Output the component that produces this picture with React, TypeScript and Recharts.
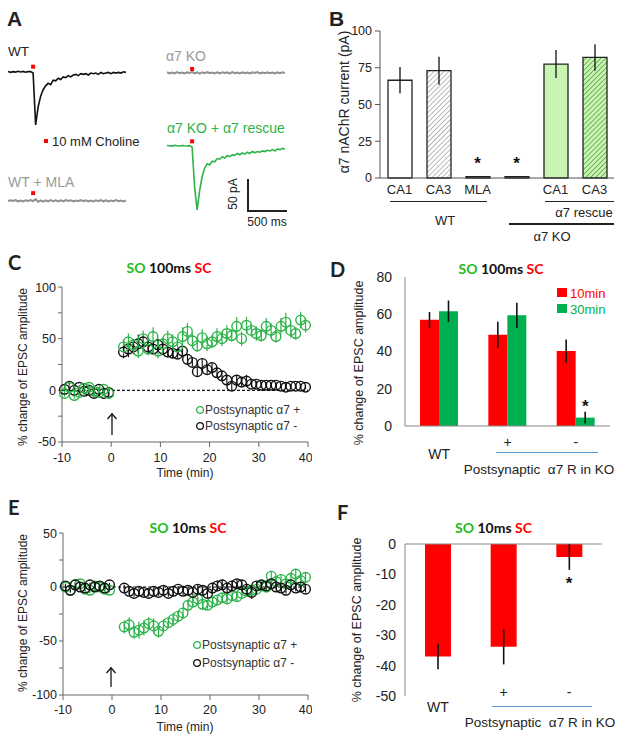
import React from 'react';
import {
  LineChart,
  Line,
  BarChart,
  Bar,
  ScatterChart,
  Scatter,
  XAxis,
  YAxis,
  ErrorBar,
  Cell,
  ReferenceLine,
  ReferenceDot,
} from 'recharts';

// ---- Panel A: example current traces (pA), evenly sampled over ~1.5 s ----
const TRACE_WT = [
  0.5, -0.8, 0.3, -0.5, 0.8, -0.3, 0.6, -0.7, 0.2, 0.4,
  -2, -83, -55, -38, -28, -22, -18, -20, -13, -14,
  -10, -12, -8, -9, -6, -8, -5, -4, -6, -3,
  -4, -3, -5, -2, -3, -2, -4, -1, -3, -2,
  -1, -3, -1, -2, -1, -2, 0, -1,
];
const TRACE_KO = [
  1, -1, 0.5, -0.8, 1.2, -0.6, 0.4, -1, 0.8, -0.4,
  1.5, -0.9, 0.6, -1.2, 0.9, -0.5, 1.1, -0.7, 0.3, -1,
  0.8, -1.1, 0.9, -0.4, 0.6, -1.2, 1, -0.6, 0.4, -0.9,
  0.9, -0.7, 0.5, -1.1, 0.8, -0.3, 1.1, -0.9, 0.5, -0.7,
  0.9, -0.5, 0.3, -1.1, 0.7, -0.6, 0.9, -0.4,
];
const TRACE_MLA = [
  -0.6, 0.9, -0.4, 1, -0.8, 0.5, -1, 0.7, -0.3, 1.1,
  -0.5, 2.5, -1.5, 0.8, -1.2, 0.6, -0.9, 1, -0.5, 0.8,
  -1, 0.6, -0.8, 1.1, -0.4, 0.9, -1.1, 0.5, -0.7, 1,
  -0.6, 0.8, -0.9, 0.4, -1, 0.7, -0.5, 1.1, -0.8, 0.6,
  -0.9, 0.5, -0.6, 1, -0.7, 0.4, -1, 0.8,
];
const TRACE_RESCUE = [
  0.5, 0, -0.5, 0.8, 0.2, -0.4, 0.5, 0, -0.3, 0.3,
  -2, -65, -100, -70, -48, -35, -28, -30, -24, -25,
  -20, -21, -17, -19, -15, -17, -14, -15, -12, -14,
  -11, -13, -10, -12, -9, -11, -9, -10, -8, -9,
  -7, -8, -6, -8, -5, -6, -4, -5,
];
const STIM_INDEX = 10; // sample where choline was puffed
const STIM_MARK = [8, 6, 12, 7]; // height of the red marker (pA): WT, KO, MLA, rescue

// ---- Panel B ----
const B_CATEGORIES = ['WT CA1', 'WT CA3', 'WT MLA', 'KO', 'Rescue CA1', 'Rescue CA3'];
const B_TICKS = ['CA1', 'CA3', 'MLA', '', 'CA1', 'CA3'];
const B_VALUES = [66.5, 73, 1, 1, 77.5, 82];
const B_ERRORS = [9, 9.5, 0, 0, 9.5, 9];
const B_STARRED = ['WT MLA', 'KO'];

// ---- Panel C (SO 100ms SC) ----
const C_TIME = [
  -9.5, -8.5, -7.5, -6.5, -5.5, -4.5, -3.5, -2.5, -1.5, -0.5,
  2.5, 3.5, 4.5, 5.5, 6.5, 7.5, 8.5, 9.5, 10.5, 11.5, 12.5, 13.5, 14.5, 15.5, 16.5, 17.5, 18.5, 19.5,
  20.5, 21.5, 22.5, 23.5, 24.5, 25.5, 26.5, 27.5, 28.5, 29.5, 30.5, 31.5, 32.5, 33.5, 34.5, 35.5,
  36.5, 37.5, 38.5, 39.5,
];
const C_PLUS = [
  -3, 3, -5, -2, 2, 3, -1, -2, 1, -3,
  42, 47, 44, 38, 50, 40, 52, 38, 45, 50, 47, 42, 52, 57, 48, 43, 51, 45,
  47, 52, 50, 55, 53, 62, 50, 63, 58, 55, 53, 62, 58, 52, 62, 66, 58, 55, 68, 63,
];
const C_PLUS_ERR = [
  3, 3, 3, 2, 3, 3, 2, 3, 2, 3,
  7, 8, 6, 7, 8, 6, 9, 7, 6, 8, 7, 6, 9, 8, 7, 6, 8, 7,
  6, 8, 7, 8, 6, 9, 7, 8, 6, 7, 6, 8, 7, 6, 8, 9, 7, 6, 8, 7,
];
const C_MINUS = [
  1, 4, 0, 3, -1, 0, -3, 1, -3, -2,
  37, 40, 42, 45, 47, 42, 40, 44, 40, 37, 36, 35, 38, 30, 27, 18, 26, 20,
  22, 17, 14, 10, 4, 10, 8, 9, 6, 6, 5, 5, 5, 5, 4, 3, 4, 4, 4, 3,
];
const C_MINUS_ERR = [
  2, 3, 2, 2, 3, 2, 3, 2, 2, 3,
  6, 8, 7, 9, 6, 7, 5, 6, 6, 5, 5, 4, 5, 5, 4, 4, 5, 4,
  4, 4, 4, 4, 4, 5, 5, 6, 3, 3, 3, 3, 3, 3, 2, 2, 2, 2, 2, 2,
];

// ---- Panel D ----
const D_GROUPS = ['WT', '+', '-'];
const D_10MIN = [57, 49, 40.3];
const D_10MIN_ERR = [4.2, 7, 6.2];
const D_30MIN = [61.6, 59.4, 4.5];
const D_30MIN_ERR = [5.8, 6.8, 3.2];

// ---- Panel E (SO 10ms SC) ----
const E_TIME = C_TIME;
const E_PLUS = [
  0, -3, 2, 3, -2, -3, 1, 0, -2, -3,
  -37, -35, -42, -40, -38, -34, -36, -41, -36, -33, -30, -27, -24, -17, -14, -11, -16, -17,
  -14, -12, -10, -11, -8, -9, -6, -4, -3, -2, 1, 0, 10, 5, 7, 3, 8, 12, 6, 9,
];
const E_PLUS_ERR = [
  2, 2, 3, 2, 2, 3, 2, 2, 3, 2,
  6, 7, 6, 8, 7, 6, 7, 6, 6, 5, 6, 5, 5, 5, 4, 5, 5, 4,
  5, 4, 4, 5, 4, 5, 4, 5, 4, 4, 4, 5, 5, 4, 5, 4, 4, 5, 4, 4,
];
const E_MINUS = [
  1, -3, 2, 0, -1, 2, 0, 1, -1, 2,
  -1, -4, -6, -4, -5, -6, -4, -5, -3, -6, -4, -2, -4, -3, -5, -2, -3, -6,
  -1, 1, 2, -1, 1, 3, 2, -2, -5, 1, 2, 1, 3, 0, -1, -3, 2, -1, 0, -2,
];
const E_MINUS_ERR = [
  2, 2, 2, 2, 2, 2, 2, 2, 2, 2,
  3, 3, 3, 3, 3, 3, 3, 3, 3, 3, 4, 3, 4, 3, 3, 4, 3, 4,
  5, 5, 5, 4, 5, 4, 4, 4, 6, 4, 3, 3, 3, 3, 3, 3, 3, 3, 3, 3,
];

// ---- Panel F ----
const F_GROUPS = ['WT', '+', '-'];
const F_VALUES = [-37, -33.8, -4.3];
const F_ERRORS = [4.2, 5.8, 4.2];

// ---- styling ----
const SANS = '"Liberation Sans", Arial, sans-serif';
const TITLE = 'Lato, "Open Sans", sans-serif';
const SO_GREEN = '#22bb22';
const RED = '#ff0000';
const XL_GREEN = '#00b050';
const TRACE_GREEN = '#2db34a';
const AXIS_GRAY = '#878787';
const BLUE = '#5b9bd5';

const PA_TOP = 20;
const PA_BOTTOM = -110;
const PX_PER_PA = 0.64;
const TRACE_W = 118;

type TxtProps = {
  x: number;
  y: number;
  size: number;
  color?: string;
  font?: string;
  weight?: number | string;
  anchor?: 'start' | 'middle' | 'end';
  rotate?: boolean;
  children: React.ReactNode;
};

function Txt({ x, y, size, color = '#222', font = SANS, weight = 'normal', anchor = 'start', rotate = false, children }: TxtProps) {
  const tx = anchor === 'middle' ? '-50%' : anchor === 'end' ? '-100%' : '0';
  return (
    <div
      style={{
        position: 'absolute',
        left: x,
        top: y,
        fontSize: size,
        fontFamily: font,
        fontWeight: weight,
        color,
        lineHeight: 1,
        whiteSpace: 'nowrap',
        transform: rotate ? 'translate(-50%, -50%) rotate(-90deg)' : `translate(${tx}, -50%)`,
      }}
    >
      {children}
    </div>
  );
}

function HLine({ x1, x2, y, color = '#222', w = 1.3 }: { x1: number; x2: number; y: number; color?: string; w?: number }) {
  return <div style={{ position: 'absolute', left: x1, top: y - w / 2, width: x2 - x1, height: w, background: color }} />;
}

function VLine({ x, y1, y2, color = '#222', w = 1.3 }: { x: number; y1: number; y2: number; color?: string; w?: number }) {
  return <div style={{ position: 'absolute', left: x - w / 2, top: y1, width: w, height: y2 - y1, background: color }} />;
}

function Title({ x, y, mid }: { x: number; y: number; mid: string }) {
  return (
    <Txt x={x} y={y} size={14} font={TITLE} weight={700} anchor="middle">
      <span style={{ color: SO_GREEN }}>SO</span> <span style={{ color: '#111' }}>{mid}</span>{' '}
      <span style={{ color: RED }}>SC</span>
    </Txt>
  );
}

function Arrow({ x, top, bottom }: { x: number; top: number; bottom: number }) {
  return (
    <svg style={{ position: 'absolute', left: x - 6, top }} width={12} height={bottom - top}>
      <line x1={6} y1={0.5} x2={6} y2={bottom - top} stroke="#111" strokeWidth={1.3} />
      <polyline points="1.5,6 6,0.8 10.5,6" fill="none" stroke="#111" strokeWidth={1.3} />
    </svg>
  );
}

function ScatterKey({ x, y, color, label }: { x: number; y: number; color: string; label: string }) {
  return (
    <>
      <svg style={{ position: 'absolute', left: x - 5, top: y - 5 }} width={10} height={10}>
        <circle cx={5} cy={5} r={3.4} fill="none" stroke={color} strokeWidth={1.3} />
      </svg>
      <Txt x={x + 5} y={y} size={12} color="#333">
        {label}
      </Txt>
    </>
  );
}

const redSquare = (p: any) => <rect x={p.cx - 2} y={p.cy - 2} width={4} height={4} fill={RED} />;

function Trace({ data, left, baseline, color, width, stim }: { data: number[]; left: number; baseline: number; color: string; width: number; stim: number }) {
  const rows = data.map((v, i) => ({ i, v }));
  const top = baseline - PA_TOP * PX_PER_PA;
  const h = (PA_TOP - PA_BOTTOM) * PX_PER_PA;
  return (
    <div style={{ position: 'absolute', left, top }}>
      <LineChart width={TRACE_W} height={h} data={rows} margin={{ top: 0, right: 0, bottom: 0, left: 0 }}>
        <XAxis type="number" dataKey="i" domain={[0, data.length - 1]} hide />
        <YAxis type="number" domain={[PA_BOTTOM, PA_TOP]} hide />
        <Line dataKey="v" stroke={color} strokeWidth={width} dot={false} isAnimationActive={false} />
        <ReferenceDot x={STIM_INDEX} y={stim} r={2} shape={redSquare} />
      </LineChart>
    </div>
  );
}

const starShape = (dx: number) => (p: any) => (
  <text x={p.cx + dx} y={p.cy} dy={9} textAnchor="middle" fontSize={17} fontWeight="bold" fontFamily={SANS} fill="#111">
    *
  </text>
);

const openCircle = (color: string) => (p: any) => (
  <circle cx={p.cx} cy={p.cy} r={4.8} fill="none" stroke={color} strokeWidth={1.4} />
);

function TimeCourse({ top, height, marginTop, yWidth, domain, ticks, plus, minus, greenOnTop, tickMargin }: any) {
  const axisStyle = { fontSize: 12.5, fill: '#222', fontFamily: SANS };
  const black = <Scatter data={minus} shape={openCircle('#111')} isAnimationActive={false}>
    <ErrorBar dataKey="err" direction="y" width={0} stroke="#111" strokeWidth={1.1} />
  </Scatter>;
  const green = <Scatter data={plus} shape={openCircle(TRACE_GREEN)} isAnimationActive={false}>
    <ErrorBar dataKey="err" direction="y" width={0} stroke={TRACE_GREEN} strokeWidth={1.2} />
  </Scatter>;
  return (
    <div style={{ position: 'absolute', left: 0, top }}>
      <ScatterChart width={312} height={height} margin={{ top: marginTop, right: 4, bottom: 0, left: 0 }}>
        <XAxis
          type="number"
          dataKey="t"
          domain={[-10, 40]}
          ticks={[-10, 0, 10, 20, 30, 40]}
          height={30}
          stroke="#666"
          tickSize={5}
          tickMargin={tickMargin}
          tick={axisStyle}
        />
        <YAxis
          type="number"
          dataKey="v"
          domain={domain}
          ticks={ticks}
          width={yWidth}
          stroke="#666"
          tickSize={4}
          tickMargin={2}
          tick={axisStyle}
          tickFormatter={(v: number) => (v % 50 === 0 ? String(v) : '')}
        />
        <ReferenceLine y={0} stroke="#111" strokeDasharray="3 2" strokeWidth={1.2} />
        {greenOnTop ? black : green}
        {greenOnTop ? green : black}
      </ScatterChart>
    </div>
  );
}

function DTick(p: any) {
  const isWT = p.payload.value === 'WT';
  return (
    <text x={p.x} y={p.y + (isWT ? 28 : 15.5)} textAnchor="middle" dominantBaseline="central" fontSize={14} fontFamily={SANS} fill="#222">
      {p.payload.value}
    </text>
  );
}

function FTick(p: any) {
  const isWT = p.payload.value === 'WT';
  return (
    <text x={p.x} y={p.y + (isWT ? 10.7 : -4.3)} textAnchor="middle" dominantBaseline="central" fontSize={14} fontFamily={SANS} fill="#222">
      {p.payload.value}
    </text>
  );
}

export default function App() {
  const bData = B_CATEGORIES.map((c, i) => ({ c, v: B_VALUES[i], err: B_ERRORS[i] }));
  const bFills = ['#ffffff', 'url(#hatchGray)', '#111', '#111', '#c9f5b3', 'url(#hatchGreen)'];

  const cPlus = C_TIME.map((t, i) => ({ t, v: C_PLUS[i], err: C_PLUS_ERR[i] }));
  const cMinus = C_TIME.map((t, i) => ({ t, v: C_MINUS[i], err: C_MINUS_ERR[i] }));
  const ePlus = E_TIME.map((t, i) => ({ t, v: E_PLUS[i], err: E_PLUS_ERR[i] }));
  const eMinus = E_TIME.map((t, i) => ({ t, v: E_MINUS[i], err: E_MINUS_ERR[i] }));

  const dData = D_GROUPS.map((g, i) => ({
    g,
    m10: D_10MIN[i],
    e10: D_10MIN_ERR[i],
    m30: D_30MIN[i],
    e30: D_30MIN_ERR[i],
  }));
  const fData = F_GROUPS.map((g, i) => ({ g, v: F_VALUES[i], err: F_ERRORS[i] }));

  const dTick = { fontSize: 14, fill: '#222', fontFamily: SANS };

  return (
    <div style={{ position: 'absolute', left: 0, top: 0, width: 624, height: 741, background: '#fff', overflow: 'hidden' }}>
      {/* ---------- A ---------- */}
      <Txt x={7} y={17.5} size={21} weight={700}>A</Txt>
      <Txt x={8} y={52} size={13.5}>WT</Txt>
      <Trace data={TRACE_WT} left={8} baseline={72} color="#111" width={1.6} stim={STIM_MARK[0]} />
      <Txt x={166} y={56} size={14} color="#9a9a9a">α7 KO</Txt>
      <Trace data={TRACE_KO} left={167} baseline={73} color="#8f8f8f" width={2} stim={STIM_MARK[1]} />
      <div style={{ position: 'absolute', left: 44, top: 139, width: 4, height: 4, background: RED }} />
      <Txt x={52} y={141} size={13}>10 mM Choline</Txt>
      <Txt x={167} y={128} size={14} color={TRACE_GREEN}>α7 KO + α7 rescue</Txt>
      <Trace data={TRACE_RESCUE} left={167} baseline={146} color={TRACE_GREEN} width={1.6} stim={STIM_MARK[3]} />
      <Txt x={8} y={182} size={14} color="#9a9a9a">WT + MLA</Txt>
      <Trace data={TRACE_MLA} left={8} baseline={201} color="#8f8f8f" width={2} stim={STIM_MARK[2]} />
      <VLine x={248} y1={179} y2={211.5} w={1.5} />
      <HLine x1={248} x2={287} y={211} w={1.5} />
      <Txt x={233} y={194} size={12} rotate>50 pA</Txt>
      <Txt x={267} y={222} size={12} anchor="middle">500 ms</Txt>

      {/* ---------- B ---------- */}
      <Txt x={329} y={17.5} size={21} weight={700}>B</Txt>
      <div style={{ position: 'absolute', left: 312, top: 0 }}>
        <BarChart width={312} height={200} data={bData} margin={{ top: 31, right: 10, bottom: 0, left: 0 }}>
          <defs>
            <pattern id="hatchGray" patternUnits="userSpaceOnUse" width={3.5} height={3.5} patternTransform="rotate(45)">
              <rect width={3.5} height={3.5} fill="#ffffff" />
              <line x1={0} y1={0} x2={0} y2={3.5} stroke="#9a9a9a" strokeWidth={1.4} />
            </pattern>
            <pattern id="hatchGreen" patternUnits="userSpaceOnUse" width={3.5} height={3.5} patternTransform="rotate(45)">
              <rect width={3.5} height={3.5} fill="#c9f5b3" />
              <line x1={0} y1={0} x2={0} y2={3.5} stroke="#4f9a3c" strokeWidth={1.4} />
            </pattern>
          </defs>
          <XAxis
            dataKey="c"
            height={22}
            stroke="#555"
            tickSize={0}
            tickMargin={7}
            tick={{ fontSize: 13, fill: '#222', fontFamily: SANS }}
            tickFormatter={(_v: string, i: number) => B_TICKS[i]}
          />
          <YAxis
            domain={[0, 100]}
            ticks={[0, 25, 50, 75, 100]}
            width={68}
            stroke="#555"
            tickSize={5}
            tickMargin={3}
            tick={{ fontSize: 12.5, fill: '#222', fontFamily: SANS }}
          />
          <Bar dataKey="v" barSize={24} isAnimationActive={false}>
            {bData.map((d, i) => (
              <Cell key={d.c} fill={bFills[i]} stroke="#222" strokeWidth={1.3} />
            ))}
            <ErrorBar dataKey="err" width={0} stroke="#111" strokeWidth={1.3} />
          </Bar>
          {B_STARRED.map((c) => (
            <ReferenceDot key={c} x={c} y={12} r={0} shape={starShape(0)} />
          ))}
        </BarChart>
      </div>
      <Txt x={344} y={102} size={14} rotate>α7 nAChR current (pA)</Txt>
      <HLine x1={390} x2={487} y={201.5} />
      <Txt x={445} y={220} size={13} anchor="middle">WT</Txt>
      <HLine x1={545} x2={614} y={201.5} />
      <Txt x={584} y={212} size={13} anchor="middle">α7 rescue</Txt>
      <HLine x1={509} x2={614} y={224} />
      <Txt x={552} y={236} size={13} anchor="middle">α7 KO</Txt>

      {/* ---------- C ---------- */}
      <Txt x={8} y={262} size={20} font={TITLE} weight={700}>C</Txt>
      <Title x={169} y={268} mid="100ms" />
      <TimeCourse
        top={280}
        height={192}
        marginTop={7}
        yWidth={62}
        domain={[-50, 100]}
        ticks={[-50, -25, 0, 25, 50, 75, 100]}
        plus={cPlus}
        minus={cMinus}
        greenOnTop
        tickMargin={6}
      />
      <Txt x={23} y={367} size={12} rotate>% change of EPSC amplitude</Txt>
      <Txt x={185} y={473} size={12} anchor="middle">Time (min)</Txt>
      <Arrow x={112} top={413} bottom={435} />
      <ScatterKey x={200} y={410} color={TRACE_GREEN} label="Postsynaptic α7 +" />
      <ScatterKey x={200} y={426} color="#111" label="Postsynaptic α7 -" />

      {/* ---------- D ---------- */}
      <Txt x={330} y={269} size={20} font={TITLE} weight={700}>D</Txt>
      <Title x={501} y={269} mid="100ms" />
      <div style={{ position: 'absolute', left: 312, top: 266 }}>
        <BarChart width={312} height={200} data={dData} margin={{ top: 11, right: 14, bottom: 0, left: 0 }} barGap={0}>
          <XAxis dataKey="g" height={40} stroke={AXIS_GRAY} tickSize={0} tickMargin={0} tick={<DTick />} />
          <YAxis domain={[0, 80]} ticks={[0, 20, 40, 60, 80]} width={93} stroke={AXIS_GRAY} tickSize={0} tickMargin={13} tick={dTick} />
          <Bar dataKey="m10" fill={RED} barSize={19} isAnimationActive={false}>
            <ErrorBar dataKey="e10" width={0} stroke="#111" strokeWidth={1.6} />
          </Bar>
          <Bar dataKey="m30" fill={XL_GREEN} barSize={19} isAnimationActive={false}>
            <ErrorBar dataKey="e30" width={0} stroke="#111" strokeWidth={1.6} />
          </Bar>
          <ReferenceDot x="-" y={D_30MIN[2] + D_30MIN_ERR[2] + 4.5} r={0} shape={starShape(9.5)} />
        </BarChart>
      </div>
      <Txt x={358.5} y={363} size={12.5} rotate>% change of EPSC amplitude</Txt>
      <div style={{ position: 'absolute', left: 557, top: 288, width: 10, height: 9, background: RED }} />
      <Txt x={570} y={292.5} size={13} color={RED}>10min</Txt>
      <div style={{ position: 'absolute', left: 557, top: 304, width: 10, height: 9, background: XL_GREEN }} />
      <Txt x={570} y={308.5} size={13} color={XL_GREEN}>30min</Txt>
      <HLine x1={496} x2={598} y={452.3} color={BLUE} w={1.6} />
      <Txt x={539} y={470} size={13.5} anchor="middle">Postsynaptic&nbsp; α7 R in KO</Txt>

      {/* ---------- E ---------- */}
      <Txt x={8} y={507} size={20} font={TITLE} weight={700}>E</Txt>
      <Title x={188} y={528} mid="10ms" />
      <TimeCourse
        top={526}
        height={199}
        marginTop={7}
        yWidth={63}
        domain={[-100, 50]}
        ticks={[-100, -75, -50, -25, 0, 25, 50]}
        plus={ePlus}
        minus={eMinus}
        greenOnTop={false}
        tickMargin={5}
      />
      <Txt x={23} y={613} size={12} rotate>% change of EPSC amplitude</Txt>
      <Txt x={185} y={727} size={12} anchor="middle">Time (min)</Txt>
      <Arrow x={111} top={667} bottom={687} />
      <ScatterKey x={197} y={645} color={TRACE_GREEN} label="Postsynaptic α7 +" />
      <ScatterKey x={197} y={663} color="#111" label="Postsynaptic α7 -" />

      {/* ---------- F ---------- */}
      <Txt x={337} y={512} size={20} font={TITLE} weight={700}>F</Txt>
      <Title x={493.5} y={528} mid="10ms" />
      <div style={{ position: 'absolute', left: 312, top: 534 }}>
        <BarChart width={312} height={192} data={fData} margin={{ top: 10, right: 22, bottom: 0, left: 0 }}>
          <XAxis dataKey="g" height={30} axisLine={false} tickSize={0} tickMargin={0} tick={<FTick />} />
          <YAxis domain={[-50, 0]} ticks={[-50, -40, -30, -20, -10, 0]} width={93} stroke={AXIS_GRAY} tickSize={0} tickMargin={9} tick={dTick} />
          <ReferenceLine y={0} stroke={AXIS_GRAY} strokeWidth={1.2} />
          <Bar dataKey="v" fill={RED} barSize={26} isAnimationActive={false}>
            <ErrorBar dataKey="err" width={0} stroke="#111" strokeWidth={1.6} />
          </Bar>
          <ReferenceDot x="-" y={F_VALUES[2] - F_ERRORS[2] - 3.3} r={0} shape={starShape(0)} />
        </BarChart>
      </div>
      <Txt x={357} y={620} size={12.5} rotate>% change of EPSC amplitude</Txt>
      <HLine x1={492} x2={592} y={706.7} color={BLUE} w={1.6} />
      <Txt x={540} y={723} size={13.5} anchor="middle">Postsynaptic&nbsp; α7 R in KO</Txt>
    </div>
  );
}
